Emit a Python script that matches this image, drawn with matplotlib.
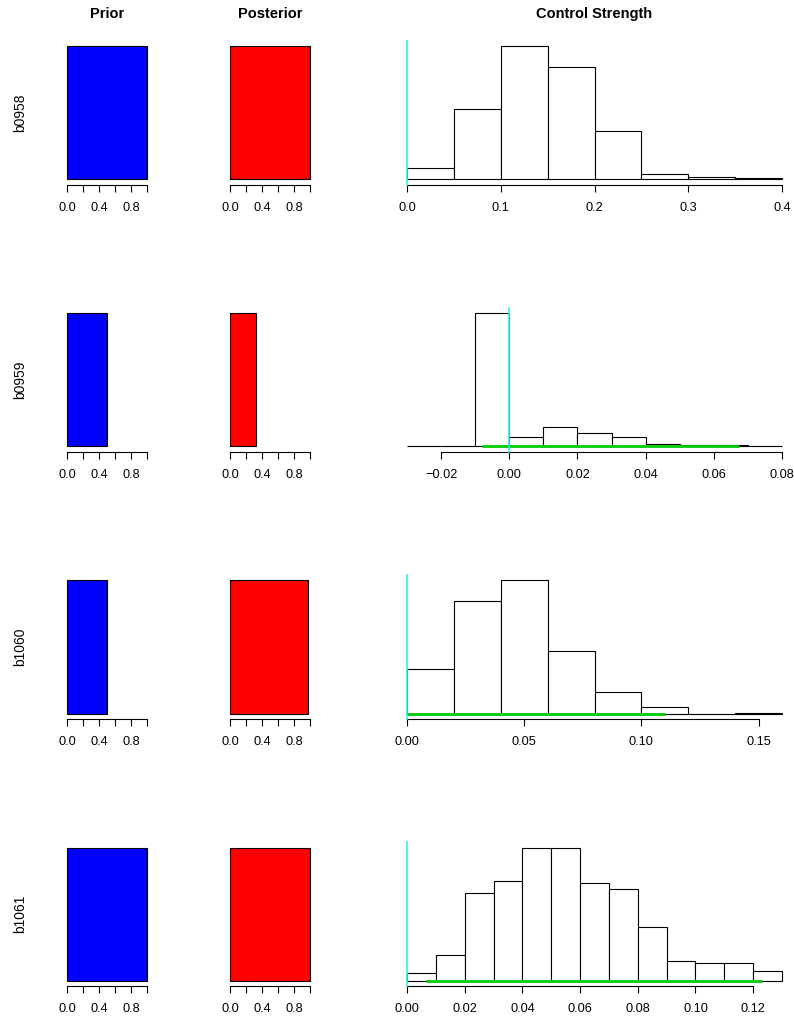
import numpy as np
import matplotlib
matplotlib.use("Agg")
import matplotlib.pyplot as plt

plt.rcParams['font.family'] = ['Liberation Sans', 'DejaVu Sans']

# row names and the prior / posterior bar widths
genes = ['b0958', 'b0959', 'b1060', 'b1061']
prior_w = [1.0, 0.5, 0.5, 1.0]
post_w = [1.0, 0.33, 0.98, 1.0]

# control strength histograms (bin edges and counts)
edges = [
    [0.0, 0.05, 0.10, 0.15, 0.20, 0.25, 0.30, 0.35, 0.40],
    [-0.03, -0.02, -0.01, 0.0, 0.01, 0.02, 0.03, 0.04, 0.05, 0.06, 0.07, 0.08],
    [0.0, 0.02, 0.04, 0.06, 0.08, 0.10, 0.12, 0.14, 0.16],
    [0.0, 0.01, 0.02, 0.03, 0.04, 0.05, 0.06, 0.07, 0.08, 0.09, 0.10, 0.11, 0.12, 0.13],
]
counts = [
    [35, 212, 400, 336, 144, 15, 7, 3],
    [2, 0, 398, 28, 59, 41, 27, 7, 4, 4, 2],
    [133, 337, 397, 186, 64, 19, 0, 3],
    [25, 78, 262, 298, 398, 398, 292, 275, 161, 60, 54, 54, 30],
]
# interval drawn in green along the baseline (none for the first gene)
ci = [None, (-0.0079, 0.0673), (0.0, 0.11), (0.0065, 0.1232)]

hist_ticks = [
    [0.0, 0.1, 0.2, 0.3, 0.4],
    [-0.02, 0.0, 0.02, 0.04, 0.06, 0.08],
    [0.0, 0.05, 0.10, 0.15],
    [0.0, 0.02, 0.04, 0.06, 0.08, 0.10, 0.12],
]
hist_labels = [
    ['0.0', '0.1', '0.2', '0.3', '0.4'],
    ['\u22120.02', '0.00', '0.02', '0.04', '0.06', '0.08'],
    ['0.00', '0.05', '0.10', '0.15'],
    ['0.00', '0.02', '0.04', '0.06', '0.08', '0.10', '0.12'],
]
unit_ticks = [0.0, 0.2, 0.4, 0.6, 0.8, 1.0]
unit_labels = ['0.0', '', '0.4', '', '0.8', '']
col_titles = ['Prior', 'Posterior', 'Control Strength']

W, H = 794, 1017
fig = plt.figure(figsize=(W / 100, H / 100), dpi=100)

def make_ax(x0, x1, k):
    top = 40.7 + 267.2 * k
    bot = 184.6 + 267.2 * k
    return fig.add_axes([x0 / W, 1 - bot / H, (x1 - x0) / W, (bot - top) / H])

def style(ax, ticks, labels):
    for s in ['top', 'right', 'left']:
        ax.spines[s].set_visible(False)
    ax.spines['bottom'].set_linewidth(0.8)
    ax.spines['bottom'].set_bounds(ticks[0], ticks[-1])
    ax.set_yticks([])
    ax.set_xticks(ticks)
    ax.set_xticklabels(labels)
    ax.tick_params(axis='x', direction='out', length=4.7, width=0.8, pad=7.5, labelsize=9.2)
    ax.patch.set_visible(False)

for k in range(4):
    # prior
    ax = make_ax(67, 147, k)
    ax.bar(0, 1, width=prior_w[k], align='edge', color='blue', edgecolor='black',
           linewidth=0.8, clip_on=False)
    ax.set_xlim(0, 1)
    ax.set_ylim(-0.04, 1.04)
    style(ax, unit_ticks, unit_labels)
    fig.text(20 / W, 1 - (112.6 + 267.2 * k) / H, genes[k], rotation=90,
             ha='center', va='center', fontsize=10)

    # posterior
    ax = make_ax(230, 310, k)
    ax.bar(0, 1, width=post_w[k], align='edge', color='red', edgecolor='black',
           linewidth=0.8, clip_on=False)
    ax.set_xlim(0, 1)
    ax.set_ylim(-0.04, 1.04)
    style(ax, unit_ticks, unit_labels)

    # control strength histogram
    ax = make_ax(407, 782, k)
    e = np.array(edges[k])
    c = np.array(counts[k], dtype=float)
    ax.bar(e[:-1], c, width=np.diff(e), align='edge', color='white',
           edgecolor='black', linewidth=0.8, clip_on=False)
    top = c.max()
    ax.set_xlim(e[0], e[-1])
    ax.set_ylim(-0.04 * top, 1.04 * top)
    if ci[k] is not None:
        ax.plot(ci[k], [0, 0], color='#00CD00', linewidth=2, solid_capstyle='butt')
    ax.axvline(0, color='#30F0F0', linewidth=1.2, clip_on=False, zorder=3)
    style(ax, hist_ticks[k], hist_labels[k])

for title, xc in zip(col_titles, [107, 270, 594.5]):
    fig.text(xc / W, 1 - 14 / H, title, ha='center', va='center',
             fontsize=10.5, fontweight='bold')

fig.savefig('out.png', dpi=100)
